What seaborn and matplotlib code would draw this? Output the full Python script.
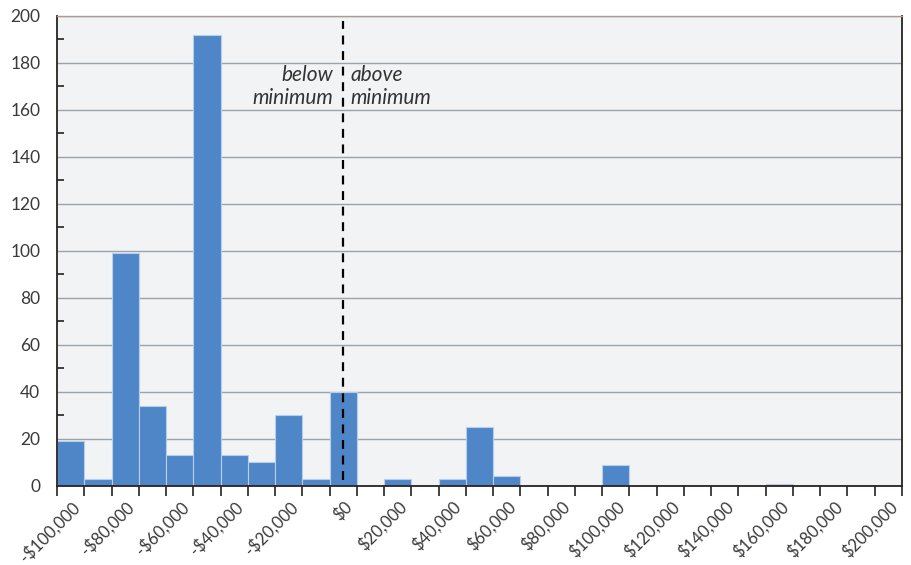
import numpy as np
import pandas as pd
import matplotlib
matplotlib.use("Agg")
import matplotlib.pyplot as plt
import matplotlib.transforms as mtransforms
from matplotlib.ticker import MultipleLocator, FuncFormatter
import seaborn as sns

# counts per $10,000 bin (left edge of bin), empty bins left out
bin_start = [-100000, -90000, -80000, -70000, -60000, -50000, -40000, -30000,
             -20000, -10000, 0, 20000, 40000, 50000, 60000, 100000, 160000]
counts = [19, 3, 99, 34, 13, 192, 13, 10, 30, 3, 40, 3, 3, 25, 4, 9, 1]

minimum_line = 5000
left_text = "below\nminimum"
right_text = "above\nminimum"

df = pd.DataFrame({"start": bin_start, "count": counts})
df["mid"] = df["start"] + 5000

sns.set_style("white")
plt.rcParams["font.family"] = ["Lato", "DejaVu Sans"]

fig = plt.figure(figsize=(9.12, 5.65), dpi=100)
ax = fig.add_axes([0.0625, 0.140, 0.9265, 0.832])
ax.set_facecolor("#f2f3f4")

sns.histplot(data=df, x="mid", weights="count", binwidth=10000,
             binrange=(-100000, 210000), ax=ax,
             color="#4f86c8", alpha=1, edgecolor="#b9cfe9", linewidth=0.8)

ax.set_xlim(-100000, 210000)
ax.set_ylim(0, 200)

# gridlines
ax.yaxis.set_major_locator(MultipleLocator(20))
ax.yaxis.set_minor_locator(MultipleLocator(10))
ax.grid(axis="y", which="major", color="#9aa3aa", linewidth=1.0)
ax.set_axisbelow(True)

def money(x, pos):
    if x < 0:
        return "-${:,.0f}".format(-x)
    return "${:,.0f}".format(x)

ax.set_xticks(np.arange(-100000, 200001, 20000))
ax.set_xticks(np.arange(-100000, 210001, 10000), minor=True)
ax.xaxis.set_major_formatter(FuncFormatter(money))

ax.tick_params(axis="x", which="both", direction="out", length=7, width=1.2,
               color="#222222", labelsize=12, labelcolor="#3a3a3a", pad=2,
               bottom=True)
ax.tick_params(axis="y", which="major", length=0, labelsize=12.5,
               labelcolor="#3a3a3a", pad=12)
ax.tick_params(axis="y", which="minor", direction="in", length=5, width=1.2,
               color="#222222", left=True)

offset = mtransforms.ScaledTranslation(14 / 100, 0, fig.dpi_scale_trans)
for lab in ax.get_xticklabels():
    lab.set_rotation(45)
    lab.set_ha("right")
    lab.set_rotation_mode("anchor")
    lab.set_transform(lab.get_transform() + offset)

for side in ["left", "bottom", "right"]:
    ax.spines[side].set_visible(True)
    ax.spines[side].set_color("#2a2220")
    ax.spines[side].set_linewidth(1.3)
ax.spines["top"].set_color("#b09a90")
ax.spines["top"].set_linewidth(1.0)

ax.set_xlabel("")
ax.set_ylabel("")

ax.axvline(minimum_line, ymin=0.012, ymax=0.988, color="black",
           linestyle=(0, (4, 3)), linewidth=1.6)
ax.text(minimum_line - 3600, 179, left_text, ha="right", va="top",
        fontsize=15, style="italic", color="#333333", linespacing=1.2,
        multialignment="right")
ax.text(minimum_line + 2600, 179, right_text, ha="left", va="top",
        fontsize=15, style="italic", color="#333333", linespacing=1.2)

fig.savefig("out.png", dpi=100)
